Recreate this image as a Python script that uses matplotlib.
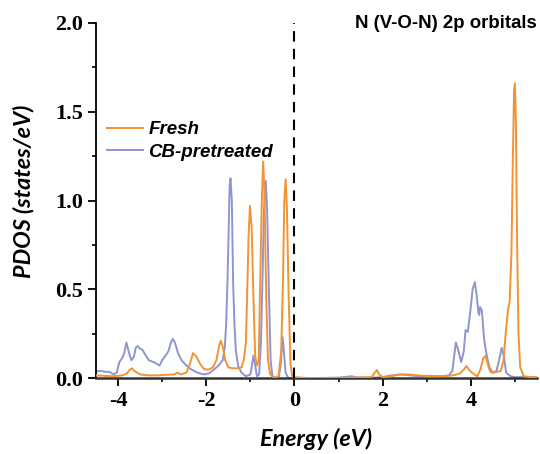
import matplotlib
matplotlib.use("Agg")
import matplotlib.pyplot as plt
from matplotlib.ticker import MultipleLocator

# ---------------- data ----------------
fresh_E = [-4.5, -4.3, -4.1, -3.9, -3.8, -3.74, -3.69, -3.63, -3.5, -3.3, -3.1, -2.9, -2.72,
           -2.65, -2.58, -2.45, -2.37, -2.3, -2.22, -2.14, -2.05, -1.95, -1.85, -1.77,
           -1.71, -1.67, -1.63, -1.57, -1.5, -1.4, -1.3, -1.2, -1.15, -1.1, -1.07, -1.04,
           -1.01, -0.97, -0.93, -0.89, -0.85, -0.81, -0.78, -0.74, -0.71, -0.68, -0.64,
           -0.6, -0.55, -0.45, -0.36, -0.3, -0.26, -0.23, -0.2, -0.17, -0.13, -0.09,
           -0.05, 0.0, 0.3, 0.8, 1.3, 1.75, 1.82, 1.87, 1.92, 2.0, 2.2, 2.4, 2.6, 2.8,
           3.0, 3.2, 3.4, 3.6, 3.75, 3.85, 3.9, 3.95, 4.0, 4.08, 4.15, 4.22, 4.28, 4.33,
           4.38, 4.44, 4.5, 4.6, 4.68, 4.74, 4.79, 4.84, 4.88, 4.92, 4.95, 4.98, 5.0,
           5.02, 5.05, 5.08, 5.12, 5.2, 5.35, 5.5]
fresh_pdos = [0.015, 0.012, 0.01, 0.015, 0.025, 0.045, 0.055, 0.04, 0.02, 0.015, 0.015, 0.018,
              0.02, 0.03, 0.02, 0.03, 0.08, 0.14, 0.12, 0.08, 0.05, 0.047, 0.06, 0.1,
              0.18, 0.21, 0.18, 0.1, 0.06, 0.055, 0.055, 0.06, 0.1, 0.2, 0.5, 0.8,
              0.97, 0.85, 0.45, 0.12, 0.07, 0.1, 0.5, 1.0, 1.22, 1.05, 0.45,
              0.1, 0.02, 0.0, 0.01, 0.15, 0.55, 1.0, 1.12, 0.95, 0.45, 0.08,
              0.01, 0.005, 0.0, 0.0, 0.002, 0.005, 0.03, 0.045, 0.02, 0.005, 0.01, 0.02,
              0.02, 0.015, 0.01, 0.01, 0.01, 0.015, 0.025, 0.05, 0.068, 0.05, 0.035,
              0.02, 0.01, 0.05, 0.11, 0.125, 0.08, 0.035, 0.03, 0.035, 0.04, 0.1, 0.25,
              0.38, 0.43, 0.7, 1.2, 1.62, 1.66, 1.45, 0.75, 0.25, 0.06, 0.01, 0.005, 0.005]

cb_E = [-4.5, -4.4, -4.3, -4.2, -4.1, -4.03, -3.97, -3.91, -3.86, -3.81, -3.76, -3.7, -3.64,
        -3.6, -3.56, -3.5, -3.45, -3.38, -3.3, -3.2, -3.12, -3.06, -3.0, -2.94, -2.86,
        -2.8, -2.76, -2.71, -2.64, -2.56, -2.45, -2.35, -2.2, -2.05, -1.95, -1.83, -1.72,
        -1.63, -1.58, -1.55, -1.52, -1.49, -1.47, -1.45, -1.42, -1.39, -1.36, -1.33, -1.28,
        -1.2, -1.1, -1.0, -0.97, -0.93, -0.89, -0.85, -0.8, -0.76, -0.73, -0.69, -0.65,
        -0.62, -0.58, -0.54, -0.5, -0.4, -0.35, -0.31, -0.27, -0.24, -0.2, -0.14, 0.0,
        0.5, 1.0, 1.3, 1.4, 1.8, 2.0, 2.2, 2.4, 2.6, 2.8, 3.0, 3.2, 3.4, 3.5, 3.58, 3.62,
        3.66, 3.71, 3.78, 3.84, 3.88, 3.93, 3.99, 4.04, 4.09, 4.13, 4.17, 4.19, 4.21, 4.25,
        4.3, 4.35, 4.42, 4.5, 4.58, 4.64, 4.7, 4.75, 4.8, 4.9, 5.0, 5.2, 5.5]
cb_pdos = [0.037, 0.04, 0.035, 0.035, 0.02, 0.03, 0.09, 0.11, 0.14, 0.2, 0.15, 0.1, 0.12,
           0.17, 0.18, 0.165, 0.16, 0.13, 0.1, 0.09, 0.08, 0.07, 0.1, 0.12, 0.15,
           0.2, 0.22, 0.2, 0.14, 0.1, 0.07, 0.05, 0.03, 0.02, 0.025, 0.047, 0.07,
           0.1, 0.17, 0.3, 0.53, 0.85, 1.08, 1.125, 1.0, 0.53, 0.3, 0.16, 0.07,
           0.03, 0.01, 0.02, 0.06, 0.126, 0.07, 0.01, 0.02, 0.2, 0.5, 0.95, 1.11,
           0.95, 0.5, 0.1, 0.01, 0.0, 0.01, 0.08, 0.23, 0.15, 0.03, 0.0, 0.0,
           0.0, 0.002, 0.01, 0.003, 0.002, 0.005, 0.015, 0.02, 0.015, 0.01, 0.012, 0.01,
           0.012, 0.015, 0.04, 0.12, 0.2, 0.16, 0.09, 0.15, 0.27, 0.26, 0.38, 0.5, 0.54,
           0.47, 0.37, 0.355, 0.4, 0.38, 0.22, 0.14, 0.06, 0.03, 0.04, 0.1, 0.17, 0.12,
           0.03, 0.01, 0.005, 0.005, 0.005]

series_labels = ["Fresh", "CB-pretreated"]
title_text = "N (V-O-N) 2p orbitals"
x_ticks = [-4, -2, 0, 2, 4]
y_ticks = [0.0, 0.5, 1.0, 1.5, 2.0]

# ---------------- plot ----------------
fig = plt.figure(figsize=(5.4, 4.54), dpi=100)
ax = fig.add_axes([96/540, 1-378/454, (537-96)/540, (378-23)/454])

c_fresh = "#F39332"
c_cb = "#8E95CF"
ax.plot(fresh_E, fresh_pdos, color=c_fresh, lw=1.4, label=series_labels[0], zorder=3)
ax.plot(cb_E, cb_pdos, color=c_cb, lw=1.4, label=series_labels[1], zorder=2)
ax.axvline(0, color="black", lw=1.5, ls=(0, (5, 3.5)), zorder=4)

ax.set_xlim(-4.5, 5.5)
ax.set_ylim(0, 2.0)
ax.set_xticks(x_ticks)
ax.set_yticks(y_ticks)
ax.set_xticklabels([f"{v:g}" for v in x_ticks])
ax.set_yticklabels([f"{v:.1f}" for v in y_ticks])
ax.xaxis.set_minor_locator(MultipleLocator(1))
ax.yaxis.set_minor_locator(MultipleLocator(0.25))

for s in ["top", "right"]:
    ax.spines[s].set_visible(False)
ax.spines["left"].set_linewidth(1.3)
ax.spines["bottom"].set_linewidth(1.8)
ax.spines["bottom"].set_color("#333333")

ax.tick_params(which="major", direction="out", length=5.5, width=1.3, pad=4)
ax.tick_params(which="minor", direction="out", length=3, width=1.2)
for lab in ax.get_xticklabels() + ax.get_yticklabels():
    lab.set_fontfamily("Liberation Serif")
    lab.set_fontweight("bold")
    lab.set_fontsize(16)

label_font = dict(family="Lato", weight="bold", style="italic", size=16.8)
ax.set_xlabel("Energy (eV)", fontdict=label_font, labelpad=12)
ax.set_ylabel("PDOS (states/eV)", fontdict=label_font)
ax.yaxis.set_label_coords(-0.14, 0.525)

fig.text(537/540, 1-23/454, title_text, ha="right", va="center",
         family="Liberation Sans", weight="bold", size=13.4)

leg = ax.legend(loc="upper left", bbox_to_anchor=(94/540, 1-108/454),
                bbox_transform=fig.transFigure, frameon=False,
                prop=dict(family="Liberation Sans", weight="bold", style="italic", size=13.5),
                handlelength=1.9, handletextpad=0.3, labelspacing=0.3, borderpad=0.2)

fig.savefig("out.png", dpi=100)
